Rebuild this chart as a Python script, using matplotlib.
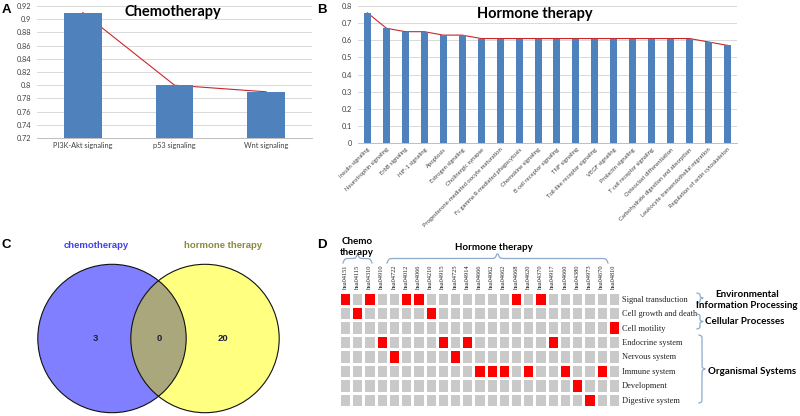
import numpy as np
import matplotlib
matplotlib.use("Agg")
import matplotlib.pyplot as plt
from matplotlib.patches import Circle
from matplotlib.colors import ListedColormap

W, H = 800, 416

# --- data ---
chemo_paths = ["PI3K-Akt signaling", "p53 signaling", "Wnt signaling"]
chemo_scores = [0.91, 0.80, 0.79]

hormone_paths = ["Insulin signaling", "Neurotrophin signaling", "ErbB signaling",
                 "HIF-1 signaling", "Apoptosis", "Estrogen signaling",
                 "Cholinergic synapse", "Progesterone-mediated oocyte maturation",
                 "Fc gamma R-mediated phagocytosis", "Chemokine signaling",
                 "B cell receptor signaling", "TNF signaling",
                 "Toll-like receptor signaling", "VEGF signaling",
                 "Prolactin signaling", "T cell receptor signaling",
                 "Osteoclast differentiation", "Carbohydrate digestion and absorption",
                 "Leukocyte transendothelial migration",
                 "Regulation of actin cytoskeleton"]
hormone_scores = [0.76, 0.67, 0.65, 0.65, 0.63, 0.63, 0.61, 0.61, 0.61, 0.61,
                  0.61, 0.61, 0.61, 0.61, 0.61, 0.61, 0.61, 0.61, 0.59, 0.57]

venn_names = ["chemotherapy", "hormone therapy"]
venn_counts = [3, 0, 20]   # chemo only, both, hormone only

kegg_ids = ["hsa04151", "hsa04115", "hsa04310", "hsa04910", "hsa04722", "hsa04012",
            "hsa04066", "hsa04210", "hsa04915", "hsa04725", "hsa04914", "hsa04666",
            "hsa04062", "hsa04662", "hsa04668", "hsa04620", "hsa04370", "hsa04917",
            "hsa04660", "hsa04380", "hsa04973", "hsa04670", "hsa04810"]
categories = ["Signal transduction", "Cell growth and death", "Cell motility",
              "Endocrine system", "Nervous system", "Immune system",
              "Development", "Digestive system"]
kegg_category = [0, 1, 0, 3, 4, 0, 0, 1, 3, 4, 3, 5, 5, 5, 0, 5, 0, 3, 5, 6, 7, 5, 2]
groups = ["Environmental\nInformation Processing", "Cellular Processes", "Organismal Systems"]

BLUE = "#4f81bd"
LINE = "#c8282a"
GRID = "#d9d9d9"
TXT = "#404040"


def box(x0, y0, x1, y1):
    # pixel box (top-left origin) -> figure fraction
    return [x0 / W, 1 - y1 / H, (x1 - x0) / W, (y1 - y0) / H]


def fmt(v, pos=None):
    return f"{round(v, 2):g}"


def bar_panel(rect, names, vals, ylim, step, width, lab_size, rot):
    ax = fig.add_axes(rect)
    x = np.arange(len(vals))
    ax.plot(x, vals, color=LINE, lw=0.8, zorder=2)
    ax.bar(x, vals, width=width, color=BLUE, zorder=3)
    ax.set_xlim(-0.5, len(vals) - 0.5)
    ax.set_ylim(*ylim)
    ax.set_yticks(np.round(np.arange(ylim[0], ylim[1] + step / 2, step), 2))
    ax.yaxis.set_major_formatter(plt.FuncFormatter(fmt))
    ax.yaxis.grid(True, color=GRID, lw=0.7)
    ax.set_axisbelow(True)
    for s in ["left", "right", "top"]:
        ax.spines[s].set_visible(False)
    ax.spines["bottom"].set_color("#bfbfbf")
    ax.spines["bottom"].set_linewidth(0.7)
    ax.tick_params(axis="y", length=0, labelsize=5.3, labelcolor=TXT, pad=4)
    ax.tick_params(axis="x", length=0, labelcolor=TXT, pad=3)
    ax.set_xticks(x)
    if rot:
        ax.set_xticklabels(names, fontsize=lab_size, rotation=45, ha="right",
                           rotation_mode="anchor")
    else:
        ax.set_xticklabels(names, fontsize=lab_size)
    return ax


def brace(ax, a, b, c, depth, vertical=False, beta=1.2, color="#8eaacc"):
    n = 200
    s = np.linspace(a, b, n)
    half = s[: n // 2]
    h = (1 / (1 + np.exp(-beta * (half - half[0])))
         + 1 / (1 + np.exp(-beta * (half - half[-1]))))
    h = np.concatenate((h, h[::-1]))
    off = c + (h - 0.5) * depth
    if vertical:
        ax.plot(off, s, color=color, lw=0.9)
    else:
        ax.plot(s, off, color=color, lw=0.9)


plt.rcParams["font.family"] = ["Lato", "DejaVu Sans"]
fig = plt.figure(figsize=(W / 100, H / 100), dpi=100)

# --- A ---
bar_panel(box(37, 6, 312, 138), chemo_paths, chemo_scores, (0.72, 0.92), 0.02,
          0.41, 5.3, False)
fig.text(173 / W, 1 - 12 / H, "Chemotherapy", ha="center", va="center",
         fontsize=10.5, fontweight="bold")

# --- B ---
bar_panel(box(358, 6, 737, 143), hormone_paths, hormone_scores, (0, 0.8), 0.1,
          0.37, 4.2, True)
fig.text(535 / W, 1 - 14 / H, "Hormone therapy", ha="center", va="center",
         fontsize=10.5, fontweight="bold")

# --- C: venn ---
axc = fig.add_axes(box(0, 225, 320, 416))
axc.set_xlim(0, 320)
axc.set_ylim(416, 225)
axc.axis("off")
c1 = Circle((112, 338.5), 74.2, facecolor="#7f7fff", edgecolor="none")
c2 = Circle((205, 338.5), 74.2, facecolor="#ffff80", edgecolor="none")
axc.add_patch(c1)
axc.add_patch(c2)
lens = Circle((205, 338.5), 74.2, facecolor="#a9a77b", edgecolor="none")
axc.add_patch(lens)
lens.set_clip_path(c1)
for cx in (112, 205):
    axc.add_patch(Circle((cx, 338.5), 74.2, facecolor="none", edgecolor="#111111", lw=0.8))
vf = dict(fontsize=6.8, fontweight="bold", ha="center", va="center",
          family=["Liberation Sans", "DejaVu Sans"])
axc.text(95.7, 245, venn_names[0], color="#4040ee", **vf)
axc.text(222.7, 245, venn_names[1], color="#8c8a3c", **vf)
for xx, v in zip((95.7, 159, 222.7), venn_counts):
    axc.text(xx, 338.3, str(v), color="#1e1e3a", **vf)

# --- D: heatmap ---
mat = np.zeros((len(categories), len(kegg_ids)))
mat[kegg_category, np.arange(len(kegg_ids))] = 1
axd = fig.add_axes(box(339, 291.5, 620, 407))
axd.pcolormesh(mat, cmap=ListedColormap(["#c9c9c9", "#ff0000"]),
               edgecolors="white", linewidth=0.8)
axd.set_xlim(0, len(kegg_ids))
axd.set_ylim(len(categories), 0)
for s in axd.spines.values():
    s.set_visible(False)
axd.xaxis.tick_top()
axd.yaxis.tick_right()
axd.set_xticks(np.arange(len(kegg_ids)) + 0.5)
axd.set_xticklabels(kegg_ids, rotation=90, fontsize=4.6,
                    family=["Liberation Serif"], color="#222222")
axd.set_yticks(np.arange(len(categories)) + 0.5)
axd.set_yticklabels(categories, fontsize=6, family=["Liberation Serif"], color="#222222")
axd.tick_params(length=0, pad=1.5)

# --- overlay: letters, braces, group labels ---
ov = fig.add_axes([0, 0, 1, 1])
ov.set_xlim(0, W)
ov.set_ylim(H, 0)
ov.axis("off")
ov.patch.set_alpha(0)
lf = dict(fontsize=9.5, fontweight="bold", ha="center", va="center",
          family=["Liberation Sans", "DejaVu Sans"])
ov.text(6, 10, "A", **lf)
ov.text(322, 10, "B", **lf)
ov.text(6, 245, "C", **lf)
ov.text(322, 245, "D", **lf)

brace(ov, 343, 372, 263, -9)
brace(ov, 387, 608, 263, -9)
gf = dict(fontsize=7, fontweight="bold", ha="center", va="center")
ov.text(357, 247, "Chemo\ntherapy", linespacing=1.2, **gf)
ov.text(494, 248, "Hormone therapy", **gf)

brace(ov, 293, 303, 697, 6, vertical=True, beta=2.5)
brace(ov, 314, 329, 697, 6, vertical=True, beta=2.5)
brace(ov, 335, 403, 699, 6, vertical=True, beta=2.0)
ov.text(747, 300, groups[0], linespacing=1.3, **gf)
ov.text(745, 322, groups[1], **gf)
ov.text(752, 372, groups[2], **gf)

fig.savefig("out.png", dpi=100)
